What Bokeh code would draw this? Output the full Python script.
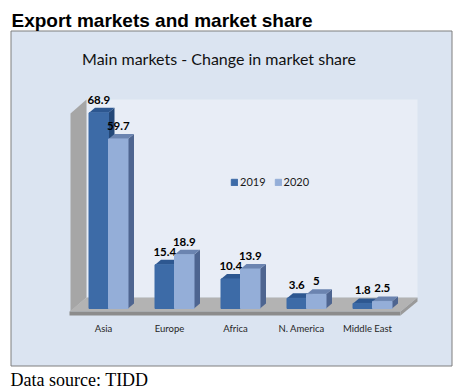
from bokeh.plotting import figure
from bokeh.models import Range1d, ColumnDataSource, Legend, LegendItem
from bokeh.core.properties import value
from bokeh.embed import file_html
from bokeh.resources import INLINE

# ---------------- data ----------------
categories = ["Asia", "Europe", "Africa", "N. America", "Middle East"]
series_names = ["2019", "2020"]
share_2019 = [68.9, 15.4, 10.4, 3.6, 1.8]
share_2020 = [59.7, 18.9, 13.9, 5, 2.5]

header_text = "Export markets and market share"
chart_title = "Main markets - Change in market share"
source_text = "Data source: TIDD"

# ---------------- layout (pixels) ----------------
W, H = 466, 392
PX_PER_CAT = 66.0
PX_PER_PCT = 2.84
FIRST_CAT_PX = 108.0   # x of first category centre
BASE_PX = 308.0        # y (from top) of bar base
BAR_PX = 19.5
DEPTH_X_PX = 6.0
DEPTH_Y_PX = 5.0

X0 = -FIRST_CAT_PX / PX_PER_CAT
Y1 = BASE_PX / PX_PER_PCT
x_range = Range1d(X0, X0 + W / PX_PER_CAT)
y_range = Range1d(Y1 - H / PX_PER_PCT, Y1)

bw = BAR_PX / PX_PER_CAT
dx = DEPTH_X_PX / PX_PER_CAT
dy = DEPTH_Y_PX / PX_PER_PCT


def px_x(px):
    return X0 + px / PX_PER_CAT


def px_y(py):
    return Y1 - py / PX_PER_PCT


LABEL_FONT = value("Lato")

p = figure(width=W, height=H, x_range=x_range, y_range=y_range,
           x_axis_location=None, y_axis_location=None,
           toolbar_location=None, output_backend="svg", min_border=0,
           outline_line_color=None, background_fill_color="white",
           border_fill_color="white")
p.grid.visible = False


def deco(pts, fill, line=None):
    p.patch([px_x(a) for a, _ in pts], [px_y(b) for _, b in pts],
            fill_color=fill, line_color=line, line_width=1)


# chart box and 3-D walls
deco([(10.5, 30.5), (451.5, 30.5), (451.5, 365.5), (10.5, 365.5)],
     "#dbe4f1", "#7f7f7f")
deco([(86, 99), (417, 99), (417, 297), (86, 297)], "#e8edf6")
deco([(70, 113), (86, 99), (86, 297), (70, 311)], "#a6a6a6")
deco([(69, 311), (400, 311), (417, 297), (86, 297)], "#b3b3b3")
deco([(69, 311), (400, 311), (400, 315), (69, 315)], "#8c8c8c")
deco([(400, 311), (417, 297), (417, 301), (400, 315)], "#9a9a9a")


def draw_series(vals, offset, front_c, top_c, side_c):
    n = len(vals)
    left = [i + offset for i in range(n)]
    right = [l + bw for l in left]
    side = ColumnDataSource(dict(
        xs=[[r, r + dx, r + dx, r] for r in right],
        ys=[[0, dy, v + dy, v] for v in vals]))
    top = ColumnDataSource(dict(
        xs=[[l, r, r + dx, l + dx] for l, r in zip(left, right)],
        ys=[[v, v, v + dy, v + dy] for v in vals]))
    front = ColumnDataSource(dict(left=left, right=right, top=vals,
                                  bottom=[0] * n))
    p.patches("xs", "ys", source=side, fill_color=side_c, line_color=None)
    p.patches("xs", "ys", source=top, fill_color=top_c, line_color=None)
    r = p.quad(left="left", right="right", top="top", bottom="bottom",
               source=front, fill_color=front_c, line_color=front_c)
    p.text(x=[(l + rr) / 2 for l, rr in zip(left, right)], y=vals,
           text=[f"{v:g}" for v in vals], text_align="center",
           text_baseline="bottom", y_offset=-9, text_font=LABEL_FONT,
           text_font_style="bold", text_font_size="11.5px",
           text_color="#000000")
    return r


r19 = draw_series(share_2019, -bw, "#3d6ba7", "#2d5790", "#244878")
r20 = draw_series(share_2020, 0.0, "#94aed8", "#6b84b0", "#4e6590")

# category labels
p.text(x=list(range(len(categories))), y=[0] * len(categories),
       text=categories, text_align="center", text_baseline="middle",
       x_offset=-5, y_offset=20, text_font=LABEL_FONT,
       text_font_size="9.5px", text_color="#262626")

legend = Legend(items=[LegendItem(label=series_names[0], renderers=[r19]),
                       LegendItem(label=series_names[1], renderers=[r20])],
                location=(230, H - 188), orientation="horizontal",
                glyph_width=8, glyph_height=8, label_standoff=2, spacing=8,
                padding=0, margin=0, border_line_color=None,
                background_fill_alpha=0, label_text_font="Lato",
                label_text_font_size="11px", label_height=12,
                label_text_color="#1a1a1a")
p.add_layout(legend)

# titles and source note
p.text(x=[px_x(11)], y=[px_y(19.5)], text=[header_text],
       text_font=value("Liberation Sans"), text_font_style="bold",
       text_font_size="19px", text_baseline="middle", text_align="left",
       text_color="#000000")
p.text(x=[px_x(218.5)], y=[px_y(58)], text=[chart_title],
       text_font=value("Lato"), text_font_size="16px",
       text_baseline="middle", text_align="center", text_color="#111111")
p.text(x=[px_x(10)], y=[px_y(379)], text=[source_text],
       text_font=value("Liberation Serif"), text_font_size="18px",
       text_baseline="middle", text_align="left", text_color="#000000")

open("out.html", "w").write(file_html(p, INLINE))
